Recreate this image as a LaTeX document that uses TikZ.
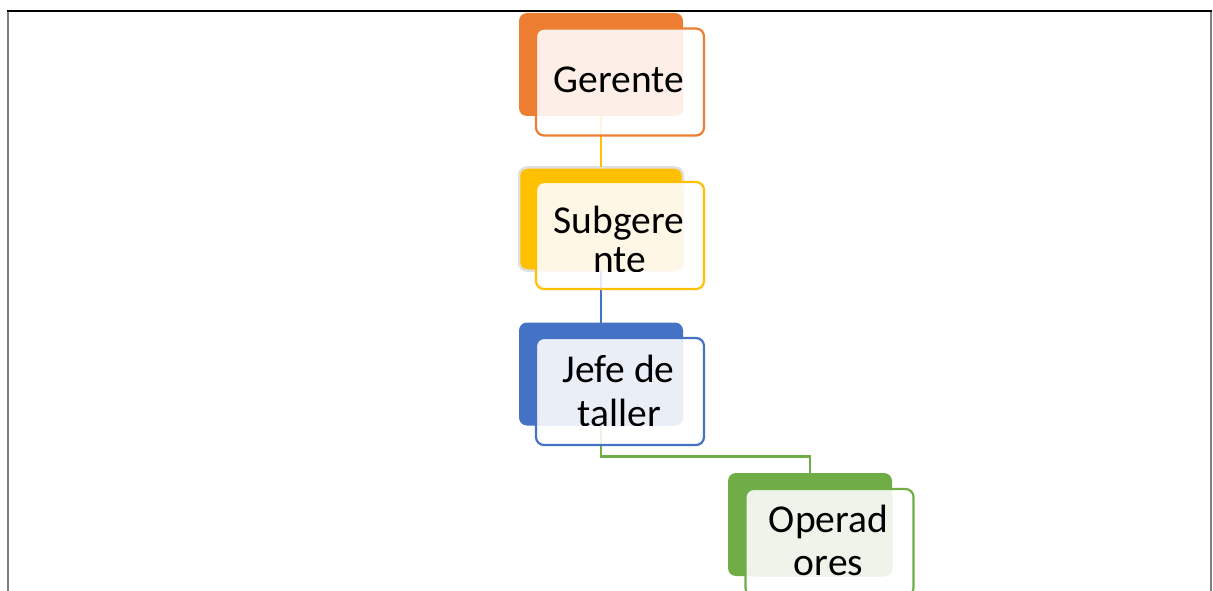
\documentclass[tikz,border=0pt]{standalone}
\usepackage{fontspec}
\setmainfont{Carlito}
\definecolor{orgD}{HTML}{ED7D31}
\definecolor{orgL}{HTML}{FDEFE7}
\definecolor{yelD}{HTML}{FFC000}
\definecolor{yelL}{HTML}{FFF7E6}
\definecolor{bluD}{HTML}{4472C4}
\definecolor{bluL}{HTML}{E9EEF7}
\definecolor{grnD}{HTML}{70AD47}
\definecolor{grnL}{HTML}{EEF4EA}
\definecolor{frameG}{HTML}{7F7F7F}
\begin{document}
\begin{tikzpicture}[x=1pt,y=-1pt,
  backbox/.style={rectangle, rounded corners=8pt, inner sep=0pt, outer sep=0pt, minimum width=164pt, minimum height=103pt},
  frontbox/.style={rectangle, rounded corners=8pt, inner sep=0pt, outer sep=0pt, minimum width=168pt, minimum height=107pt, fill=white, fill opacity=0.85, line width=2.2pt},
  lightbox/.style={rectangle, rounded corners=8pt, inner sep=0pt, outer sep=0pt, minimum width=147pt, minimum height=88pt},
  lbl/.style={anchor=base, inner sep=0pt, font=\fontsize{39.5}{36}\selectfont, text=black},
  conn/.style={line width=2.2pt}]
\useasboundingbox (0,0) rectangle (1213,591);
% frame
\draw[frameG, line width=2.4pt] (8,11) -- (8,591);
\draw[frameG, line width=2.4pt] (1211,11) -- (1211,591);
\draw[black, line width=1.4pt] (7,11) -- (1212,11);
% back boxes
\node[backbox, fill=orgD] (gback) at (601,64.5) {};
\node[backbox, fill=yelD, draw=black!12, line width=2.5pt] (sback) at (601,219) {};
\node[backbox, fill=bluD] (jback) at (601,374) {};
\node[backbox, fill=grnD] (oback) at (810,524.5) {};
% connectors
\draw[conn, yelD] (gback.south) -- (sback.north);
\draw[conn, bluD] (sback.south) -- (jback.north);
\draw[conn, grnD] (jback.south) -- ++(0,31) coordinate (jo) -| (oback.north);
% Gerente
\node[frontbox] (gfront) at (620,82) {};
\node[lightbox, fill=orgL] (glight) at (609.5,72) {};
\node[frontbox, draw=orgD, fill=none] at (gfront) {};
\node[lbl] (gt) at (619,93) {Gerente};
% Subgerente
\node[frontbox] (sfront) at (620,235.5) {};
\node[lightbox, fill=yelL] (slight) at (609.5,227) {};
\node[frontbox, draw=yelD, fill=none] at (sfront) {};
\begin{scope}
\clip[rounded corners=8pt] (536,183) rectangle (683,271);
\node[lbl] (st1) at (619,233) {Subgere};
\node[lbl] (st2) at (619.5,272) {nte};
\end{scope}
% Jefe de taller
\node[frontbox] (jfront) at (620,391.5) {};
\node[lightbox, fill=bluL] (jlight) at (609.5,381.5) {};
\node[frontbox, draw=bluD, fill=none] at (jfront) {};
\begin{scope}
\clip[rounded corners=8pt] (536,338) rectangle (683,425);
\node[lbl] (jt1) at (618.5,382) {Jefe de};
\node[lbl] (jt2) at (619.5,426) {taller};
\end{scope}
% Operadores
\node[frontbox] (ofront) at (829.5,542.5) {};
\node[lightbox, fill=grnL] (olight) at (819,532.5) {};
\node[frontbox, draw=grnD, fill=none] at (ofront) {};
\begin{scope}
\clip[rounded corners=8pt] (746,489) rectangle (892,576);
\node[lbl] (ot1) at (828.5,532) {Operad};
\node[lbl] (ot2) at (828.5,575) {ores};
\end{scope}
\end{tikzpicture}
\end{document}
